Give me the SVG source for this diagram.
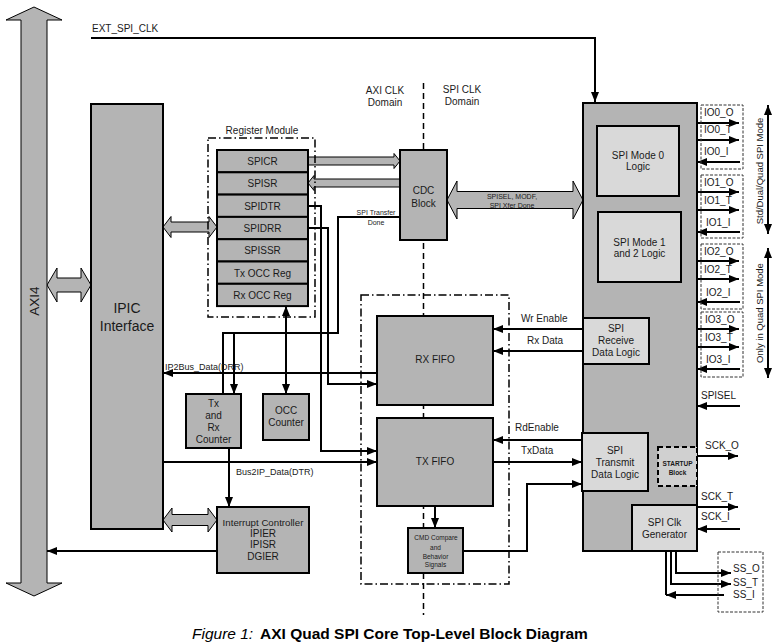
<svg xmlns="http://www.w3.org/2000/svg" width="782" height="644" viewBox="0 0 782 644">
<defs>
<marker id="ah" viewBox="0 0 10 8" refX="10" refY="4" markerWidth="10" markerHeight="8" orient="auto" markerUnits="userSpaceOnUse"><path d="M0,0 L10,4 L0,8 z" fill="#000"/></marker>
<marker id="ahs" viewBox="0 0 10 8" refX="10" refY="4" markerWidth="10" markerHeight="8" orient="auto-start-reverse" markerUnits="userSpaceOnUse"><path d="M0,0 L10,4 L0,8 z" fill="#000"/></marker>
<style>
.blk{fill:#b4b4b4;stroke:#000;stroke-width:2}
.lt{fill:#d9d9d9;stroke:#000;stroke-width:2}
.fat{fill:#b4b4b4;stroke:#000;stroke-width:1}
.dd{fill:none;stroke:#000;stroke-width:1.5;stroke-dasharray:8 3 1.5 3}
.dsh{fill:none;stroke:#333;stroke-width:1;stroke-dasharray:3 1.5}
.ln{fill:none;stroke:#000;stroke-width:2}
.ar{fill:none;stroke:#000;stroke-width:2;marker-end:url(#ah)}
.t{font-family:"Liberation Sans",Arial,sans-serif;font-size:10px;fill:#1a1a1a;text-anchor:middle}
.l{text-anchor:start}
.s9{font-size:9px}
.s7{font-size:7px}
.s65{font-size:6.5px}
</style>
</defs>
<rect width="782" height="644" fill="#fff"/>

<!-- clock domain divider -->
<line x1="423.5" y1="83" x2="423.5" y2="615" stroke="#000" stroke-width="1.5" stroke-dasharray="6 4"/>
<text class="t" x="385" y="94">AXI CLK</text>
<text class="t" x="385" y="106">Domain</text>
<text class="t" x="462" y="93">SPI CLK</text>
<text class="t" x="462" y="105">Domain</text>

<g id="connectors">
<polyline class="ar" points="91,38 595,38 595,102"/>
<polyline class="ln" points="400,217 338,217 338,333 223,333 223,394"/>
<line class="ar" x1="234" y1="333" x2="234" y2="394"/>
<polyline class="ar" points="308,206 321,206 321,451 377,451"/>
<polyline class="ar" points="308,228 328,228 328,384 377,384"/>
<line class="ln" x1="286" y1="306" x2="286" y2="394" marker-start="url(#ahs)" marker-end="url(#ah)"/>
<line class="ar" x1="377" y1="373" x2="163" y2="373"/>
<line class="ar" x1="163" y1="462" x2="377" y2="462"/>
<line class="ar" x1="229" y1="448" x2="229" y2="507"/>
<line class="ar" x1="217" y1="551" x2="47" y2="551"/>
<line class="ar" x1="435" y1="506" x2="435" y2="528"/>
<polyline class="ar" points="463,551 527,551 527,484 582,484"/>
<line class="ar" x1="583" y1="329" x2="493" y2="329"/>
<line class="ar" x1="583" y1="351" x2="493" y2="351"/>
<line class="ar" x1="583" y1="440" x2="493" y2="440"/>
<line class="ar" x1="493" y1="462" x2="582" y2="462"/>
<line class="ar" x1="670" y1="505" x2="670" y2="486"/>
<line class="ar" x1="740" y1="406" x2="697" y2="406"/>
<line class="ar" x1="697" y1="456" x2="738" y2="456"/>
<line class="ar" x1="697" y1="507" x2="738" y2="507"/>
<line class="ar" x1="740" y1="529" x2="697" y2="529"/>
<polyline class="ar" points="676,551 676,573 731,573"/>
<polyline class="ar" points="671,551 671,584 731,584"/>
<line class="ln" x1="666" y1="551" x2="666" y2="595"/>
<line class="ar" x1="724" y1="595" x2="666" y2="595"/>
<!-- IO lines -->
<line class="ar" x1="697" y1="123" x2="739" y2="123"/>
<line class="ar" x1="697" y1="140" x2="739" y2="140"/>
<line class="ar" x1="740" y1="162" x2="697" y2="162"/>
<line class="ar" x1="697" y1="192" x2="739" y2="192"/>
<line class="ar" x1="697" y1="210" x2="739" y2="210"/>
<line class="ar" x1="740" y1="232" x2="697" y2="232"/>
<line class="ar" x1="697" y1="261" x2="739" y2="261"/>
<line class="ar" x1="697" y1="279" x2="739" y2="279"/>
<line class="ar" x1="740" y1="302" x2="697" y2="302"/>
<line class="ar" x1="697" y1="329" x2="739" y2="329"/>
<line class="ar" x1="697" y1="347" x2="739" y2="347"/>
<line class="ar" x1="740" y1="369" x2="697" y2="369"/>
<line class="ln" x1="768" y1="105" x2="768" y2="234" marker-start="url(#ahs)" marker-end="url(#ah)"/>
<line class="ln" x1="768" y1="248" x2="768" y2="378" marker-start="url(#ahs)" marker-end="url(#ah)"/>
<!-- fat bus arrows -->
<polygon class="fat" points="47,285 57,268 57,278 81,278 81,268 91,285 81,302 81,292 57,292 57,302"/>
<polygon class="fat" points="163,227 171,216.5 171,222 209,222 209,216.5 217,227 209,237.5 209,232 171,232 171,237.5"/>
<polygon class="fat" points="163,520 172,508 172,514.5 208,514.5 208,508 217,520 208,532 208,525.5 172,525.5 172,532"/>
<polygon class="fat" points="400,161 394,153.5 394,157 308,157 308,165 394,165 394,168.5"/>
<polygon class="fat" points="308,183 314,175.5 314,179 400,179 400,187 314,187 314,190.5"/>
<polygon class="fat" points="447,200 457,181 457,191.5 573,191.5 573,181 583,200 573,219 573,208.5 457,208.5 457,219"/>
</g>
<text class="t s7" x="512" y="199">SPISEL, MODF,</text>
<text class="t s7" x="512" y="208">SPI Xfer Done</text>
<text class="t s7" x="376" y="215">SPI Transfer</text>
<text class="t s7" x="376" y="224.5">Done</text>
<text class="t l" x="92" y="32">EXT_SPI_CLK</text>
<text class="t l s9" x="165" y="370">IP2Bus_Data(DRR)</text>
<text class="t l s9" x="236" y="475">Bus2IP_Data(DTR)</text>
<text class="t l" x="521" y="322">Wr Enable</text>
<text class="t l" x="527" y="344">Rx Data</text>
<text class="t l" x="515" y="431">RdEnable</text>
<text class="t l" x="521" y="454">TxData</text>
<text class="t l" x="701" y="399">SPISEL</text>
<text class="t l" x="705" y="449">SCK_O</text>
<text class="t l" x="701" y="500">SCK_T</text>
<text class="t l" x="701" y="520">SCK_I</text>
<text class="t" x="763" y="313" transform="rotate(-90 763 313)" style="font-size:9.5px">Only in Quad SPI Mode</text>
<text class="t" x="763" y="171" transform="rotate(-90 763 171)" style="font-size:9.5px">Std/Dual/Quad SPI Mode</text>

<g id="axi4">
<polygon class="fat" points="34,7 62,20 47,20 47,583 62,583 34,596 6,583 21,583 21,20 6,20"/>
<text class="t" x="39" y="301" transform="rotate(-90 39 301)" style="font-size:13.5px">AXI4</text>
</g>

<g id="ipic">
<rect class="blk" x="91" y="104" width="72" height="425"/>
<text class="t" x="127" y="313" style="font-size:14px">IPIC</text>
<text class="t" x="127" y="331" style="font-size:14px">Interface</text>
</g>

<g id="register-module">
<rect class="dd" x="208" y="138" width="107" height="179"/>
<text class="t" x="262" y="134">Register Module</text>
<rect class="blk" x="217" y="150" width="91" height="22.3"/>
<rect class="blk" x="217" y="172.3" width="91" height="22.3"/>
<rect class="blk" x="217" y="194.6" width="91" height="22.3"/>
<rect class="blk" x="217" y="216.9" width="91" height="22.3"/>
<rect class="blk" x="217" y="239.2" width="91" height="22.3"/>
<rect class="blk" x="217" y="261.5" width="91" height="22.3"/>
<rect class="blk" x="217" y="283.8" width="91" height="22.3"/>
<text class="t" x="262.5" y="165">SPICR</text>
<text class="t" x="262.5" y="187">SPISR</text>
<text class="t" x="262.5" y="210">SPIDTR</text>
<text class="t" x="262.5" y="232">SPIDRR</text>
<text class="t" x="262.5" y="254">SPISSR</text>
<text class="t" x="262.5" y="276.5">Tx OCC Reg</text>
<text class="t" x="262.5" y="298.5">Rx OCC Reg</text>
</g>

<g id="cdc">
<rect class="blk" x="400" y="150" width="47" height="90"/>
<text class="t" x="423.5" y="194">CDC</text>
<text class="t" x="423.5" y="207">Block</text>
</g>

<g id="txrx-counter">
<rect class="blk" x="186" y="394" width="55" height="54"/>
<text class="t" x="213.5" y="406.5">Tx</text>
<text class="t" x="213.5" y="418.5">and</text>
<text class="t" x="213.5" y="430.5">Rx</text>
<text class="t" x="213.5" y="442.5">Counter</text>
</g>

<g id="occ-counter">
<rect class="blk" x="263" y="394" width="46" height="46"/>
<text class="t" x="286" y="414">OCC</text>
<text class="t" x="286" y="426">Counter</text>
</g>

<g id="interrupt-controller">
<rect class="blk" x="217" y="507" width="92" height="66"/>
<text class="t" x="263" y="525.5" style="font-size:9.7px">Interrupt Controller</text>
<text class="t" x="263" y="536.5">IPIER</text>
<text class="t" x="263" y="547.5">IPISR</text>
<text class="t" x="263" y="559.5">DGIER</text>
</g>

<g id="fifo-group">
<rect class="dd" x="361" y="295" width="148" height="289"/>
</g>

<g id="rx-fifo">
<rect class="blk" x="377" y="316" width="116" height="89"/>
<text class="t" x="435" y="362.5">RX FIFO</text>
</g>

<g id="tx-fifo">
<rect class="blk" x="377" y="418" width="116" height="88"/>
<text class="t" x="435" y="464.5">TX FIFO</text>
</g>

<g id="cmd-compare">
<rect class="blk" x="408" y="528" width="55" height="45"/>
<text class="t s65" x="436" y="539.5">CMD Compare</text>
<text class="t s65" x="435.5" y="549.5">and</text>
<text class="t s65" x="435.5" y="558.5">Behavior</text>
<text class="t s65" x="435.5" y="567">Signals</text>
</g>

<g id="spi-core">
<rect class="blk" x="583" y="103" width="114" height="448"/>
</g>

<g id="spi-mode0">
<rect class="lt" x="597" y="126" width="82" height="70"/>
<text class="t" x="638" y="158.5">SPI Mode 0</text>
<text class="t" x="638" y="169.5">Logic</text>
</g>

<g id="spi-mode12">
<rect class="lt" x="598" y="212" width="83" height="70"/>
<text class="t" x="639.5" y="245.5">SPI Mode 1</text>
<text class="t" x="639.5" y="256.5">and 2 Logic</text>
</g>

<g id="spi-receive">
<rect class="lt" x="583" y="318" width="66" height="46"/>
<text class="t" x="616" y="331.5">SPI</text>
<text class="t" x="616" y="343.5">Receive</text>
<text class="t" x="616" y="355.5">Data Logic</text>
</g>

<g id="spi-transmit">
<rect class="lt" x="582" y="433" width="66" height="58"/>
<text class="t" x="615" y="453.5">SPI</text>
<text class="t" x="615" y="466">Transmit</text>
<text class="t" x="615" y="477.5">Data Logic</text>
</g>

<g id="startup">
<rect x="658" y="447" width="39" height="39" fill="#d0d0d0" stroke="#000" stroke-width="2" stroke-dasharray="5 3"/>
<text class="t" x="677.5" y="465.5" style="font-size:6.5px;font-weight:bold">STARTUP</text>
<text class="t" x="677.5" y="474.5" style="font-size:6.5px;font-weight:bold">Block</text>
</g>

<g id="spi-clk-gen">
<rect class="lt" x="632" y="505" width="65" height="46"/>
<text class="t" x="664.5" y="525.5">SPI Clk</text>
<text class="t" x="664.5" y="537.5">Generator</text>
</g>

<g id="io-pins">
<rect class="dsh" x="701" y="105" width="42" height="64"/>
<rect class="dsh" x="701" y="175" width="42" height="63"/>
<rect class="dsh" x="701" y="244" width="42" height="65"/>
<rect class="dsh" x="701" y="312" width="42" height="65"/>
<text class="t l" x="704" y="116">IO0_O</text>
<text class="t l" x="704" y="133">IO0_T</text>
<text class="t l" x="704" y="155">IO0_I</text>
<text class="t l" x="704" y="186">IO1_O</text>
<text class="t l" x="704" y="204">IO1_T</text>
<text class="t l" x="706" y="226">IO1_I</text>
<text class="t l" x="704" y="255">IO2_O</text>
<text class="t l" x="704" y="273">IO2_T</text>
<text class="t l" x="706" y="296">IO2_I</text>
<text class="t l" x="705" y="323">IO3_O</text>
<text class="t l" x="705" y="341">IO3_T</text>
<text class="t l" x="706" y="363">IO3_I</text>
</g>

<g id="ss-pins">
<rect class="dsh" x="718" y="552" width="45" height="60"/>
<text class="t l" x="733" y="572">SS_O</text>
<text class="t l" x="733" y="586">SS_T</text>
<text class="t l" x="733" y="598">SS_I</text>
</g>

<text x="192" y="639" style="font-family:'Liberation Sans',Arial,sans-serif;font-size:15.5px;font-style:italic;fill:#000">Figure 1:</text>
<text x="260" y="639" style="font-family:'Liberation Sans',Arial,sans-serif;font-size:15.5px;font-weight:bold;fill:#000">AXI Quad SPI Core Top-Level Block Diagram</text>
</svg>
